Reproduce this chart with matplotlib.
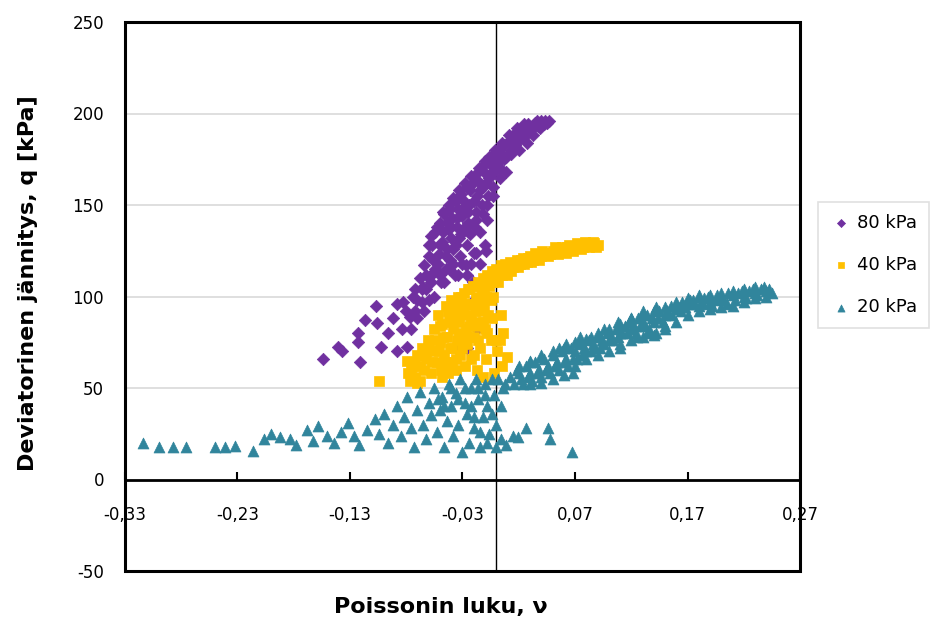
import matplotlib
matplotlib.use("Agg")
import matplotlib.pyplot as plt
from matplotlib.patches import Rectangle

# ---------------- data ----------------
# 80 kPa series
x80_a = [-0.154, -0.141, -0.137, -0.121, -0.123, -0.123, -0.117, -0.107, -0.106, -0.102,
         -0.096, -0.088, -0.084, -0.083, -0.079, -0.077, -0.074, -0.072, -0.070, -0.068,
         -0.066, -0.065, -0.064, -0.062, -0.060, -0.058, -0.057, -0.056, -0.055, -0.054,
         -0.052, -0.051, -0.050, -0.049, -0.048, -0.046, -0.045, -0.044, -0.043, -0.042,
         -0.041, -0.040, -0.039, -0.038, -0.037, -0.036, -0.035, -0.034, -0.033, -0.032,
         -0.031, -0.030, -0.029, -0.028, -0.027, -0.026, -0.025, -0.024, -0.023, -0.022,
         -0.021, -0.020, -0.019, -0.018, -0.017, -0.016, -0.015, -0.014, -0.013, -0.012,
         -0.011, -0.010, -0.009, -0.008, -0.007, -0.006, -0.005, -0.004, -0.003, -0.002,
         0.000, 0.002, 0.003, 0.005, 0.007, 0.009, 0.011, 0.013, 0.015, 0.017,
         0.019, 0.021, 0.023, 0.026, 0.028, 0.031, 0.034, 0.037, 0.040, 0.043,
         0.045, -0.035, -0.026, -0.017, -0.038, -0.020]
y80_a = [66, 72.5, 70, 64, 80, 75, 87, 95, 85.5, 72.5,
         80, 70, 82, 97, 72.5, 89, 100, 104, 88, 110,
         97, 105, 117, 104, 122, 112, 128, 113, 100, 135,
         118, 123, 140, 108, 130, 145, 115, 126, 137, 150,
         120, 132, 143, 154, 112, 128, 138, 148, 158, 122,
         134, 144, 152, 162, 117, 128, 140, 150, 158, 166,
         108, 124, 138, 146, 155, 163, 170, 135, 150, 160,
         168, 174, 125, 142, 155, 165, 172, 177, 160, 168,
         175, 180, 170, 178, 183, 176, 185, 180, 188, 183,
         190, 186, 192, 188, 194, 191, 195, 193, 196, 196,
         195, 72, 72, 82, 92, 98]
x80_b = [-0.060, -0.058, -0.056, -0.053, -0.050, -0.047, -0.047, -0.045, -0.044, -0.041,
         -0.040, -0.038, -0.036, -0.035, -0.033, -0.031, -0.030, -0.028, -0.026, -0.025,
         -0.023, -0.021, -0.020, -0.018, -0.016, -0.014, -0.012, -0.011, -0.009, -0.008,
         -0.006, -0.004, -0.003, -0.001, 0.001, 0.003, 0.005, 0.007, 0.009, 0.011,
         0.013, 0.016, 0.018, 0.020, 0.022, 0.025, 0.027, 0.030, 0.033, 0.036,
         0.039, 0.042, 0.047, -0.070, -0.066, -0.062, -0.058, -0.054, -0.050, -0.046,
         -0.042, -0.038, -0.034, -0.030, -0.026, -0.022, -0.018, -0.014, -0.010, -0.092,
         -0.088, -0.080, -0.076, -0.072, -0.064, -0.060]
y80_b = [128, 133, 120, 138, 128, 146, 135, 122, 140, 148,
         138, 126, 152, 143, 132, 156, 148, 138, 160, 146,
         134, 162, 152, 142, 168, 158, 145, 172, 162, 150,
         176, 168, 155, 180, 173, 165, 184, 175, 168, 188,
         178, 185, 192, 180, 189, 194, 184, 192, 188, 196,
         192, 194, 196, 98, 104, 112, 108, 115, 112, 108,
         115, 118, 112, 118, 112, 118, 124, 118, 128, 88,
         96, 92, 82, 92, 92, 98]

# 40 kPa series
x40_a = [-0.104, -0.079, -0.078, -0.077, -0.074, -0.072, -0.070, -0.068, -0.066, -0.064,
         -0.062, -0.061, -0.058, -0.056, -0.055, -0.053, -0.052, -0.050, -0.049, -0.048,
         -0.046, -0.045, -0.044, -0.043, -0.042, -0.041, -0.040, -0.039, -0.038, -0.037,
         -0.036, -0.035, -0.034, -0.033, -0.032, -0.031, -0.030, -0.029, -0.028, -0.027,
         -0.026, -0.025, -0.024, -0.023, -0.022, -0.021, -0.020, -0.019, -0.018, -0.017,
         -0.016, -0.015, -0.014, -0.013, -0.012, -0.011, -0.010, -0.009, -0.008, -0.007,
         -0.006, -0.005, -0.004, -0.003, -0.002, 0.000, 0.001, 0.002, 0.004, 0.005,
         0.006, 0.008, 0.010, 0.012, 0.015, 0.018, 0.021, 0.024, 0.027, 0.030,
         0.033, 0.036, 0.040, 0.043, 0.046, 0.050, 0.053, 0.056, 0.060, 0.063,
         0.066, 0.070, 0.073, 0.077, 0.080, 0.084, 0.087, 0.090, -0.070, 0.003,
         0.010, -0.012]
y40_a = [54, 65, 58, 54, 62, 56, 68, 54, 72, 60,
         66, 76, 58, 70, 82, 64, 90, 75, 60, 85,
         68, 95, 78, 58, 88, 72, 98, 64, 82, 92,
         60, 76, 100, 86, 68, 95, 80, 102, 62, 90,
         74, 104, 84, 96, 66, 106, 78, 92, 100, 60,
         108, 86, 72, 104, 110, 95, 82, 66, 112, 90,
         106, 76, 114, 100, 58, 115, 70, 108, 117, 62,
         80, 118, 112, 119, 116, 120, 118, 121, 119, 122,
         120, 123, 122, 124, 122, 125, 124, 126, 125, 127,
         126, 127, 128, 127, 129, 128, 129, 128, 53, 76,
         67, 56]
x40_b = [-0.076, -0.072, -0.068, -0.064, -0.060, -0.057, -0.054, -0.051, -0.050, -0.047,
         -0.045, -0.043, -0.040, -0.039, -0.037, -0.035, -0.033, -0.031, -0.029, -0.027,
         -0.026, -0.024, -0.022, -0.020, -0.018, -0.017, -0.015, -0.013, -0.011, -0.009,
         -0.007, -0.005, -0.003, -0.001, 0.002, 0.005, 0.007, 0.010, 0.013, 0.016,
         0.019, 0.022, 0.025, 0.028, 0.031, 0.034, 0.038, 0.041, 0.045, 0.048,
         0.052, 0.055, 0.058, 0.062, 0.065, 0.068, 0.072, 0.075, 0.079, 0.082,
         0.086, 0.089, -0.036, -0.030, -0.024, -0.020, -0.016, -0.012, -0.008, -0.004,
         0.000, 0.004, -0.042, -0.048]
y40_b = [60, 64, 62, 68, 72, 64, 76, 70, 84, 78,
         64, 92, 86, 72, 96, 88, 78, 100, 92, 82,
         96, 104, 88, 96, 106, 84, 98, 92, 104, 100,
         110, 98, 108, 112, 114, 112, 114, 116, 114, 118,
         116, 120, 118, 121, 119, 124, 120, 125, 124, 123,
         127, 123, 127, 124, 128, 125, 129, 126, 130, 127,
         130, 127, 66, 72, 78, 68, 76, 86, 80, 88,
         76, 90, 62, 56]

# 20 kPa series
x20_a = [-0.314, -0.300, -0.287, -0.276, -0.250, -0.241, -0.232, -0.216, -0.206, -0.200,
         -0.192, -0.183, -0.178, -0.168, -0.163, -0.158, -0.150, -0.144, -0.138, -0.132,
         -0.126, -0.122, -0.115, -0.108, -0.104, -0.100, -0.096, -0.092, -0.088, -0.085,
         -0.082, -0.079, -0.076, -0.073, -0.070, -0.068, -0.065, -0.062, -0.060, -0.058,
         -0.055, -0.053, -0.050, -0.048, -0.046, -0.044, -0.042, -0.040, -0.038, -0.036,
         -0.034, -0.032, -0.030, -0.028, -0.026, -0.024, -0.022, -0.020, -0.018, -0.016,
         -0.014, -0.012, -0.010, -0.008, -0.006, -0.004, -0.002, 0.000, 0.002, 0.004,
         0.006, 0.009, 0.012, 0.015, 0.018, 0.019, 0.022, 0.026, 0.026, 0.030,
         0.034, 0.038, 0.042, 0.046, 0.046, 0.048, 0.050, 0.054, 0.058, 0.062,
         0.066, 0.067, 0.068, 0.070, 0.074, 0.078, 0.082, 0.086, 0.090, 0.094,
         0.098, 0.102, 0.106, 0.110, 0.114, 0.118, 0.122, 0.126, 0.130, 0.134,
         0.138, 0.142, 0.145, 0.150, 0.155, 0.160, 0.165, 0.170, 0.175, 0.180,
         0.185, 0.190, 0.195, 0.200, 0.205, 0.210, 0.215, 0.220, 0.225, 0.230,
         0.235, 0.240, 0.245]
y20_a = [20, 18, 18, 17.5, 18, 18, 18.5, 15.5, 22, 25,
         23, 22, 19, 27, 21, 29, 24, 20, 26, 31,
         24, 19, 27, 33, 25, 36, 20, 30, 40, 24,
         34, 45, 28, 18, 38, 48, 30, 22, 42, 35,
         50, 26, 38, 45, 18, 32, 52, 40, 24, 47,
         30, 55, 15, 42, 36, 20, 50, 28, 55, 44,
         18, 34, 52, 40, 25, 55, 46, 30, 55, 22,
         50, 19, 56, 24, 60, 23, 55, 28, 62, 58,
         64, 60, 66, 28, 62, 22, 68, 64, 70, 66,
         72, 15, 58, 70, 74, 72, 76, 74, 78, 76,
         80, 78, 82, 80, 84, 86, 84, 88, 86, 90,
         88, 80, 92, 90, 95, 93, 97, 96, 98, 95,
         99, 97, 98, 100, 96, 101, 102, 100, 103, 102,
         104, 103, 102]
x20_b = [0.016, 0.020, 0.024, 0.028, 0.032, 0.036, 0.040, 0.044, 0.048, 0.052,
         0.056, 0.060, 0.064, 0.068, 0.072, 0.076, 0.080, 0.084, 0.088, 0.092,
         0.096, 0.100, 0.104, 0.108, 0.112, 0.116, 0.120, 0.124, 0.128, 0.132,
         0.136, 0.140, 0.144, 0.148, 0.152, 0.156, 0.160, 0.164, 0.168, 0.172,
         0.176, 0.180, 0.184, 0.188, 0.192, 0.196, 0.202, 0.206, 0.212, 0.218,
         0.222, 0.228, 0.232, 0.238, 0.242, 0.030, 0.040, 0.056, 0.062, 0.074,
         0.084, 0.096, 0.108, 0.120, 0.130, 0.142, 0.110, 0.125, 0.135, 0.150,
         -0.052, -0.046, -0.040, -0.034, -0.028, -0.022, -0.016, -0.010, -0.004, 0.004,
         0.008, -0.020, -0.014, -0.008, 0.000]
y20_b = [52, 58, 52, 56, 54, 58, 56, 60, 58, 62,
         60, 64, 62, 66, 66, 68, 70, 70, 72, 72,
         74, 76, 76, 78, 80, 80, 82, 80, 84, 84,
         82, 86, 88, 86, 92, 90, 96, 92, 94, 98,
         96, 100, 96, 100, 95, 101, 98, 102, 98, 103,
         99, 104, 101, 105, 104, 64, 68, 72, 74, 78,
         78, 82, 86, 88, 92, 94, 74, 78, 80, 84,
         44, 40, 50, 44, 50, 40, 50, 46, 36, 40,
         52, 34, 26, 20, 18]
x20_c = [0.020, 0.030, 0.040, 0.050, 0.060, 0.070, 0.080, 0.090, 0.100, 0.110,
         0.120, 0.130, 0.140, 0.150, 0.160, 0.170, 0.180, 0.190, 0.200, 0.210,
         0.220, 0.230, 0.030, 0.040, 0.050, 0.060, 0.070, 0.080, 0.090, 0.100,
         0.110, 0.120, 0.130, 0.140, 0.150, 0.160, 0.170, 0.180, 0.190, 0.200,
         0.210, 0.220, 0.230, 0.240]
y20_c = [62, 65, 67, 70, 72, 75, 77, 80, 82, 85,
         88, 90, 92, 94, 97, 99, 101, 101, 102, 103,
         104, 105, 52, 53, 55, 57, 62, 66, 68, 70,
         72, 76, 78, 79, 82, 86, 90, 92, 93, 94,
         95, 97, 99, 100]

x80 = x80_a + x80_b
y80 = y80_a + y80_b
x40 = x40_a + x40_b
y40 = y40_a + y40_b
x20 = x20_a + x20_b + x20_c
y20 = y20_a + y20_b + y20_c

series_labels = ["80 kPa", "40 kPa", "20 kPa"]
xticks = [-0.33, -0.23, -0.13, -0.03, 0.07, 0.17, 0.27]
xtick_labels = ["-0,33", "-0,23", "-0,13", "-0,03", "0,07", "0,17", "0,27"]
yticks = [-50, 0, 50, 100, 150, 200, 250]
ytick_labels = ["-50", "0", "50", "100", "150", "200", "250"]

# ---------------- plot ----------------
plt.rcParams['font.family'] = ['DejaVu Sans']
fig = plt.figure(figsize=(9.36, 6.2), dpi=100)
ax = fig.add_axes([125/936, 49/620, 675/936, 549/620])

ax.set_xlim(-0.33, 0.27)
ax.set_ylim(-50, 250)

for yv in [50, 100, 150, 200]:
    ax.axhline(yv, color="#D9D9D9", lw=1.2, zorder=0)
ax.axvline(0, color="black", lw=1.0, zorder=1)

ax.scatter(x80, y80, marker="D", s=40, color="#7030A0", linewidths=0.5,
           edgecolors="#7030A0", zorder=3, label=series_labels[0])
ax.scatter(x40, y40, marker="s", s=54, color="#FFC000", linewidths=0.5,
           edgecolors="#FFC000", zorder=4, label=series_labels[1])
ax.scatter(x20, y20, marker="^", s=62, color="#31859C", linewidths=0.5,
           edgecolors="#31859C", zorder=5, label=series_labels[2])

# axes
for s in ["left", "right", "top"]:
    ax.spines[s].set_visible(False)
ax.spines["bottom"].set_position(("data", 0))
ax.spines["bottom"].set_linewidth(2)
ax.add_patch(Rectangle((0, 0), 1, 1, transform=ax.transAxes, fill=False,
                       edgecolor="black", lw=2.2, zorder=6, clip_on=False))

ax.set_xticks(xticks)
ax.set_xticklabels(xtick_labels)
ax.set_yticks(yticks)
ax.set_yticklabels(ytick_labels)
ax.tick_params(axis="x", direction="in", length=6, width=1.5, pad=19, labelsize=12)
ax.tick_params(axis="y", length=0, pad=15, labelsize=12)

fig.text(441/936, 1 - 607/620, "Poissonin luku, ν", ha="center", va="center",
         fontsize=16, fontweight="bold")
fig.text(28/936, 1 - 283/620, "Deviatorinen jännitys, q [kPa]", ha="center", va="center",
         rotation=90, fontsize=16, fontweight="bold")

leg = fig.legend(loc="upper left", bbox_to_anchor=(818/936, 1 - 202/620), frameon=True,
                 borderaxespad=0, fontsize=13, handletextpad=0.2, labelspacing=1.35,
                 borderpad=0.65, handlelength=1.3, fancybox=False, markerscale=0.65)
leg.get_frame().set_edgecolor("#D9D9D9")
leg.get_frame().set_linewidth(1.2)

fig.savefig("out.png", dpi=100)
